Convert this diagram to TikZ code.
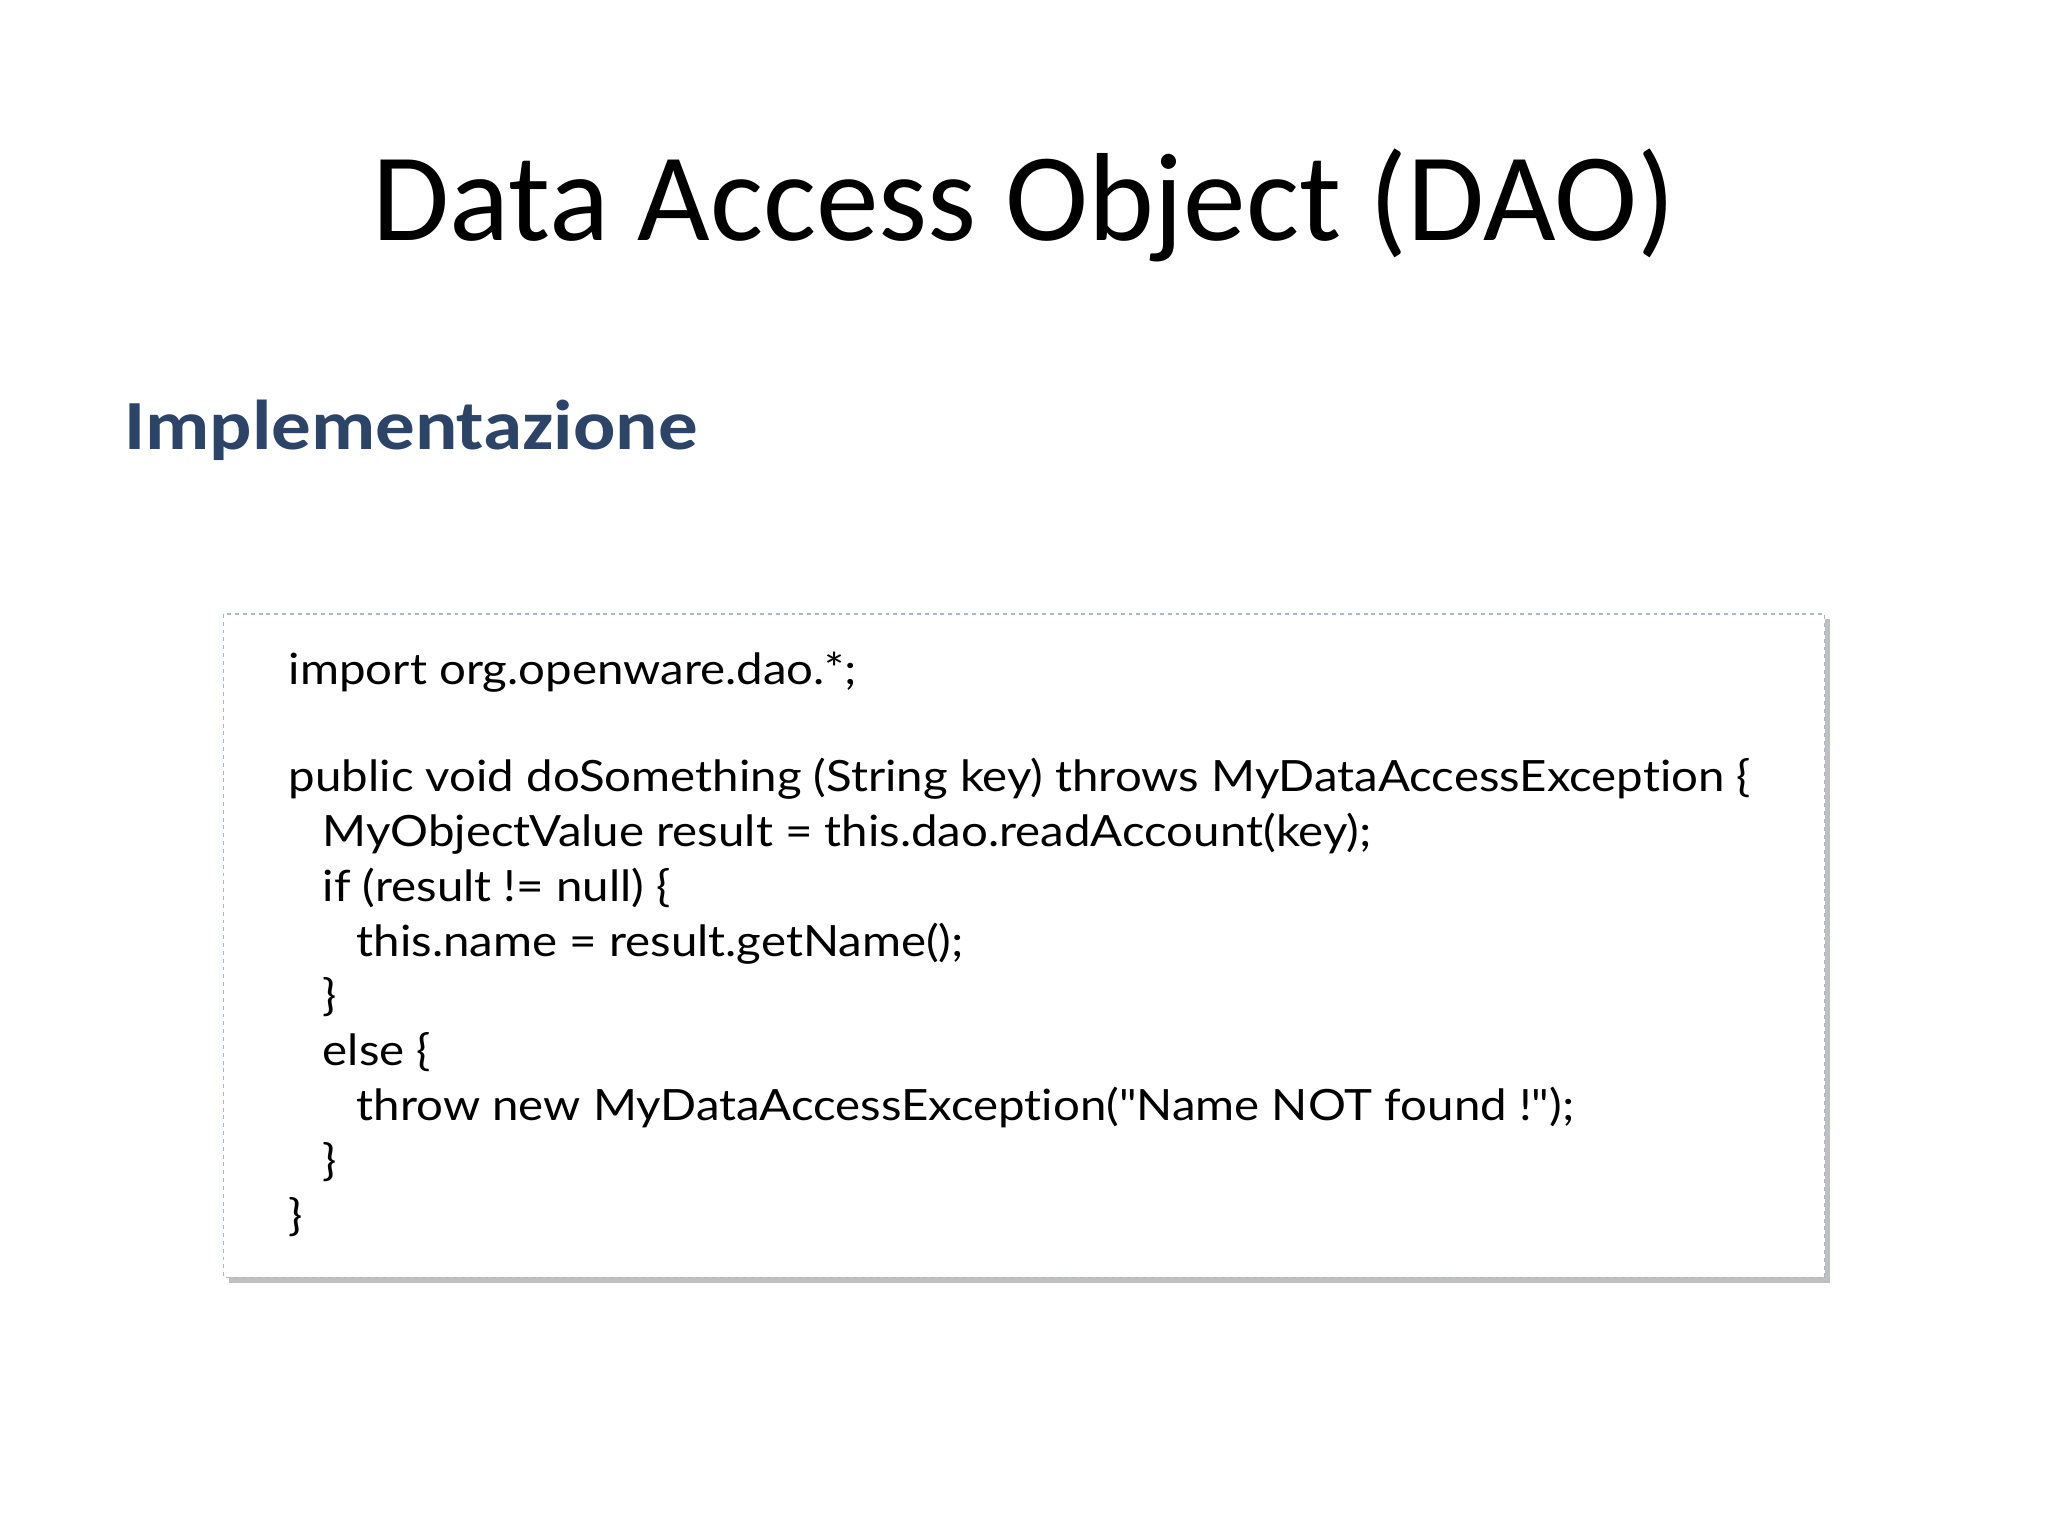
\documentclass[tikz,border=0pt]{standalone}
\usepackage{fontspec}
\setmainfont{Carlito}
\newfontfamily\codefont[FakeStretch=1.1,Ligatures={NoCommon,NoRare,NoContextual}]{Lato}
\newfontfamily\subfont[FakeStretch=1.12]{Carlito}
\definecolor{hblue}{HTML}{2C4468}
\definecolor{bordc}{HTML}{A9B8CC}
\begin{document}
\begin{tikzpicture}[x=1pt,y=-1pt,
  codeline/.style={anchor=base west,inner sep=0pt,font=\codefont\fontsize{33}{38}\selectfont}]
\useasboundingbox (0,0) rectangle (1568,1176);
\fill[white] (0,0) rectangle (1568,1176);
\node[font=\fontsize{96}{100}\selectfont,anchor=base] (title) at (784,184) {Data Access Object (DAO)};
\node[font=\subfont\bfseries\fontsize{54}{58}\selectfont,text=hblue,anchor=base west,inner sep=0pt] (sub) at (95,344) {Implementazione};
\fill[black!25] (175,474) rectangle (1401,982);
\fill[white] (171,470) rectangle (1397,978);
\draw[bordc,dashed,line width=1pt] (171,470) rectangle (1397,978);
\node[codeline] (l1) at (221,524) {import org.openware.dao.*;};
\node[codeline] (l2) at (221,606) {public void doSomething (String key) throws MyDataAccessException \{};
\node[codeline] (l3) at (247,648) {MyObjectValue result = this.dao.readAccount(key);};
\node[codeline] (l4) at (247,690) {if (result != null) \{};
\node[codeline] (l5) at (273,732) {this.name = result.getName();};
\node[codeline] (l6) at (247,774) {\}};
\node[codeline] (l7) at (247,816) {else \{};
\node[codeline] (l8) at (273,858) {throw new MyDataAccessException("Name NOT found !");};
\node[codeline] (l9) at (247,900) {\}};
\node[codeline] (l10) at (221,942) {\}};
\end{tikzpicture}
\end{document}
